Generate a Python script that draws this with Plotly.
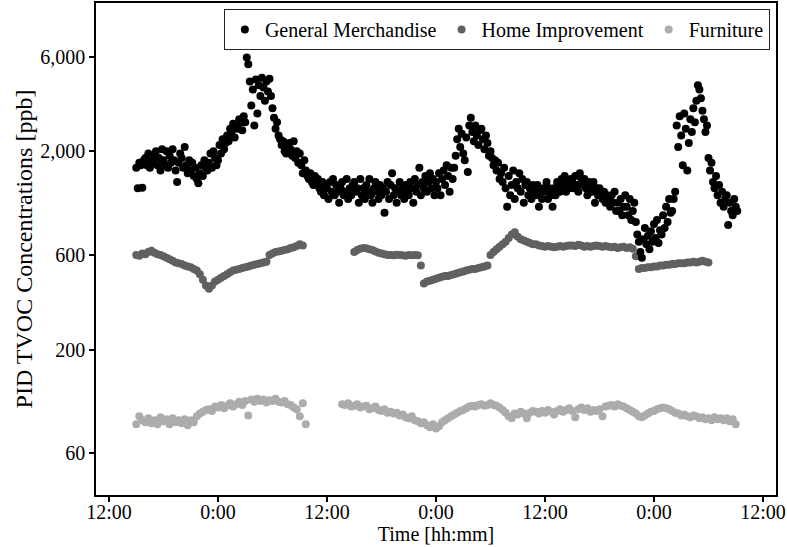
import pandas as pd
import plotly.graph_objects as go

# PID TVOC concentrations [ppb] logged at three retail stores.
# General Merchandise: 10-minute readings starting 2019-07-01 15:00 (one row per hour)
gm_start = "2019-07-01 15:00"
gm_values = [
    1650, 1300, 1750, 1700, 1310, 1800,
    1850, 1700, 1950, 1650, 1800, 1750,
    1900, 2000, 1700, 1850, 1600, 2050,
    1800, 1700, 2000, 1650, 1900, 1750,
    2050, 1800, 1600, 1400, 1750, 1950,
    1850, 1650, 2100, 1700, 1550, 1800,
    1600, 1750, 1500, 1650, 1450, 1380,
    1550, 1700, 1500, 1800, 1650, 1600,
    1750, 1950, 1650, 2000, 1850, 1700,
    1800, 2150, 1950, 2300, 2050, 2200,
    2400, 2250, 2600, 2500, 2750, 2350,
    2700, 2600, 2900, 2800, 2550, 3000,
    2800, 5950, 5500, 4500, 3400, 4100,
    2700, 4600, 3100, 4300, 3800, 4700,
    4200, 3600, 4500, 4000, 4650, 3800,
    3300, 2950, 2600, 2800, 2400, 2300,
    2150, 2250, 2000, 1950, 2100, 2200,
    2050, 1900, 2250, 1850, 2000, 1750,
    1950, 1700, 1550, 1800, 1600, 1500,
    1450, 1550, 1400, 1350, 1500, 1380,
    1450, 1300, 1250, 1400, 1200, 1350,
    1300, 1150, 1400, 1250, 1450, 1200,
    1350, 1250, 1100, 1300, 1400, 1200,
    1250, 1450, 1150, 1300, 1200, 1350,
    1400, 1250, 1300, 1100, 1450, 1200,
    1300, 1150, 1350, 1250, 1450, 1200,
    1100, 1300, 1400, 1250, 1150, 1350,
    1200, 1300, 980, 1250, 1400, 1150,
    1350, 1550, 1200, 1300, 1100, 1250,
    1400, 1200, 1300, 1150, 1350, 1250,
    1200, 1400, 1300, 1100, 1450, 1250,
    1350, 1650, 1200, 1400, 1300, 1500,
    1250, 1400, 1550, 1300, 1450, 1200,
    1400, 1300, 1550, 1200, 1450, 1600,
    1350, 1700, 1500, 1250, 1650, 1450,
    1650, 1900, 2300, 2600, 2100, 2450,
    1950, 1800, 2350, 1570, 2700, 2950,
    2500, 2250, 2700, 2400, 2150, 2550,
    2600, 2300, 2050, 2400, 2200, 1900,
    2000, 1850, 1700, 1800, 1600, 1750,
    1450, 1550, 1400, 1650, 1300, 1050,
    1500, 1200, 1350, 1600, 1150, 1400,
    1300, 1550, 1250, 1450, 1100, 1350,
    1400, 1200, 1300, 1150, 1350, 1250,
    1200, 1350, 1050, 1250, 1150, 1300,
    1250, 1400, 1150, 1300, 1200, 1050,
    1300, 1200, 1400, 1350, 1250, 1450,
    1350, 1500, 1250, 1400, 1300, 1450,
    1400, 1300, 1500, 1350, 1250, 1550,
    1450, 1350, 1450, 1300, 1200, 1400,
    1350, 1250, 1400, 1100, 1300, 1200,
    1300, 1200, 1150, 1250, 1100, 1200,
    1150, 1050, 1200, 1100, 1250, 1000,
    1100, 1000, 1150, 950, 1050, 1200,
    1050, 950, 1150, 900, 1000, 1100,
    880, 760, 700, 620, 580, 720,
    820, 680, 750, 640, 790, 700,
    860, 730, 900, 690, 800, 760,
    950, 820, 1050, 880, 1150, 980,
    1000, 1150, 1250, 2700, 2100, 3000,
    2400, 1700, 3100, 2600, 1600, 2200,
    2900, 2500, 3300, 2800, 3600, 4300,
    4100, 3700, 3200, 2900, 2500, 2700,
    1850, 1600, 1750, 1400, 1300, 1500,
    1200, 1350, 1100, 1250, 1050, 1150,
    1200, 850, 1100, 1000, 950, 1150,
    1050, 1000,
]

# Home Improvement: 20-minute readings, logged in four separate runs
hi_seg1_start = "2019-07-01 15:00"
hi_seg1 = [
    600, 595, 610, 605, 620, 630, 615, 605, 600, 590, 580, 570,
    560, 550, 545, 540, 530, 525, 520, 510, 500, 480, 450, 420,
    405, 420, 440, 450, 460, 470, 480, 490, 500, 505, 510, 515,
    520, 525, 530, 535, 540, 545, 550, 555, 600, 610, 620, 625,
    630, 635, 640, 650, 655, 665, 680, 670,
]
hi_seg2_start = "2019-07-02 15:00"
hi_seg2 = [
    620, 635, 645, 650, 648, 640, 635, 625, 615, 610, 605, 600,
    600, 598, 602, 600, 598, 595, 600, 598, 600, 597,
]
hi_seg3_start = "2019-07-02 22:20"
hi_seg3 = [
    530, 430,
    440, 445, 450, 455, 460, 465, 470, 470, 475, 480, 485, 490,
    495, 500, 505, 510, 510, 515, 520, 525, 530, 600, 620, 640,
    660, 680, 700, 730, 760, 780, 740, 720, 710, 700, 690, 680,
    680, 670, 665, 660, 665, 660, 655, 660, 665, 660, 665, 670,
    670, 665, 675, 670, 660, 665, 660, 665, 670, 665, 660, 665,
    660, 655, 660, 650, 655, 660, 650, 655, 645, 590,
]
hi_seg4_start = "2019-07-03 22:20"
hi_seg4 = [
    510, 515,
    515, 520, 520, 525, 525, 530, 530, 535, 535, 540, 540, 545,
    545, 545, 550, 550, 555, 550, 555, 560, 555, 550,
]

# Furniture: 20-minute readings, two runs
fu_seg1_start = "2019-07-01 15:00"
fu_seg1 = [
    84, 92, 88, 86, 90, 85, 88, 84, 91, 87, 89, 84,
    90, 86, 88, 85, 89, 83, 88, 86, 92, 95, 97, 99,
    100, 98, 103, 102, 105, 101, 104, 107, 103, 106, 109, 105,
    110, 93, 112, 109, 113, 110, 112, 108, 111, 110, 113, 109,
    108, 110, 106, 105, 102, 100, 92, 107, 84,
]
fu_seg2_start = "2019-07-02 13:40"
fu_seg2 = [
    106,
    105, 107, 103, 104, 106, 102, 103, 104, 100, 101, 103, 99,
    98, 100, 96, 97, 95, 96, 93, 94, 91, 90, 92, 88,
    87, 85, 86, 83, 81, 84, 80, 82, 86, 88, 90, 92,
    94, 96, 98, 99, 101, 103, 104, 103, 105, 106, 104, 105,
    107, 105, 104, 102, 99, 96, 92, 90, 95, 94, 97, 95,
    90, 96, 98, 97, 95, 98, 96, 99, 97, 94, 98, 100,
    97, 99, 101, 98, 91, 100, 102, 99, 101, 97, 99, 98,
    100, 92, 103, 104, 105, 103, 106, 104, 103, 101, 99, 97,
    95, 92, 91, 93, 95, 97, 98, 100, 101, 102, 101, 100,
    98, 96, 95, 93, 94, 92, 91, 93, 92, 90, 91, 89,
    90, 88, 91, 89, 90, 88, 90, 87, 89, 84,
]

# Axis ticks
x_tickvals = ["2019-07-01 12:00", "2019-07-02 00:00", "2019-07-02 12:00",
              "2019-07-03 00:00", "2019-07-03 12:00", "2019-07-04 00:00",
              "2019-07-04 12:00"]
x_ticktext = ["12:00", "0:00", "12:00", "0:00", "12:00", "0:00", "12:00"]
y_tickvals = [60, 200, 600, 2000, 6000]
y_ticktext = ["60", "200", "600", "2,000", "6,000"]

series_names = ["General Merchandise", "Home Improvement", "Furniture"]
series_colors = ["#000000", "#606060", "#acacac"]


def times(start, values, step):
    return pd.date_range(start, periods=len(values), freq=step)


def segments(parts, step):
    xs, ys = [], []
    for start, vals in parts:
        xs.extend(times(start, vals, step))
        ys.extend(vals)
    return xs, ys


gm_x = times(gm_start, gm_values, "10min")
hi_x, hi_y = segments([(hi_seg1_start, hi_seg1), (hi_seg2_start, hi_seg2),
                       (hi_seg3_start, hi_seg3), (hi_seg4_start, hi_seg4)], "20min")
fu_x, fu_y = segments([(fu_seg1_start, fu_seg1), (fu_seg2_start, fu_seg2)], "20min")

fig = go.Figure()
# Lighter series drawn first so the dark points sit on top
for name, color, xs, ys in [
    (series_names[2], series_colors[2], fu_x, fu_y),
    (series_names[1], series_colors[1], hi_x, hi_y),
    (series_names[0], series_colors[0], gm_x, gm_values),
]:
    fig.add_trace(go.Scatter(
        x=xs, y=ys, mode="markers", name=name,
        marker=dict(color=color, size=8, line=dict(width=0)),
    ))

font_family = "Liberation Serif, Times New Roman, serif"
fig.update_layout(
    width=787, height=547,
    margin=dict(l=96, r=11, t=3, b=52),
    plot_bgcolor="white", paper_bgcolor="white",
    font=dict(family=font_family, size=20, color="black"),
    showlegend=True,
    legend=dict(
        orientation="h", traceorder="reversed",
        x=0.991, xanchor="right", y=0.988, yanchor="top",
        bgcolor="white", bordercolor="#222222", borderwidth=1,
        font=dict(size=20), itemwidth=30,
    ),
    xaxis=dict(
        type="date", automargin=False,
        range=["2019-07-01 10:34", "2019-07-04 13:26"],
        tickmode="array", tickvals=x_tickvals, ticktext=x_ticktext,
        ticks="outside", ticklen=5, tickwidth=1.5, tickcolor="black",
        ticklabelstandoff=-7,
        showline=True, linecolor="black", linewidth=1.5, mirror=True,
        showgrid=False, zeroline=False,
        title=dict(text="Time [hh:mm]", standoff=4, font=dict(size=20)),
    ),
    yaxis=dict(
        type="log", automargin=False,
        range=[1.567, 4.049],
        tickmode="array", tickvals=y_tickvals, ticktext=y_ticktext,
        ticks="outside", ticklen=5, tickwidth=1.5, tickcolor="black",
        showline=True, linecolor="black", linewidth=1.5, mirror=True,
        showgrid=False, zeroline=False,
        title=dict(text="PID TVOC Concentrations [ppb]", standoff=1),
    ),
)

fig.write_html("out.html")
